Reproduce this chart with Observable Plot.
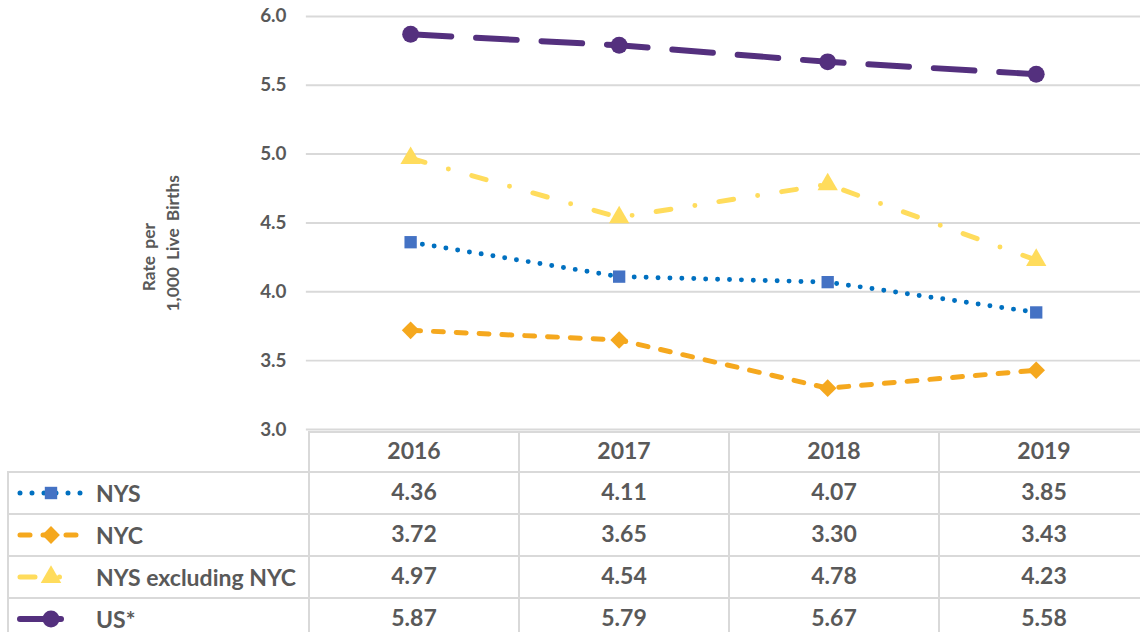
<!DOCTYPE html>
<html>
<head>
<meta charset="utf-8">
<script src="https://cdn.jsdelivr.net/npm/d3@7"></script>
<script src="https://cdn.jsdelivr.net/npm/@observablehq/plot@0.6"></script>
<style>
  html, body { margin: 0; padding: 0; background: #fff; width: 1140px; height: 632px; overflow: hidden; }
  #wrap { position: relative; width: 1140px; height: 632px; font-family: Lato, "Open Sans", sans-serif; color: #595959; }
  #chart { position: absolute; left: 0; top: 0; }
  #tbl { position: absolute; left: 7px; top: 431px; border-collapse: collapse; table-layout: fixed; width: 1142px; background: transparent; }
  #tbl td { border: 2px solid #d9d9d9; padding: 0; text-align: center; font-weight: 700; font-size: 23px; color: #595959; }
  #tbl td > * { position: relative; top: -2px; }
  #tbl tr.head td { height: 38px; }
  #tbl tr.row td { height: 40px; }
  #tbl td.blank { border-top: none; border-left: none; }
  #tbl td.lab { text-align: left; white-space: nowrap; }
  #tbl td.lab svg { vertical-align: middle; margin-left: 8px; margin-right: 11px; }
  #tbl td.lab span { vertical-align: middle; }
</style>
</head>
<body>
<div id="wrap">
  <div id="chart"></div>
  <table id="tbl"></table>
</div>
<script>
// ---- data ----
const years = [2016, 2017, 2018, 2019];
const seriesNames = ["NYS", "NYC", "NYS excluding NYC", "US*"];
const nysValues = [4.36, 4.11, 4.07, 3.85];
const nycValues = [3.72, 3.65, 3.30, 3.43];
const nysExclValues = [4.97, 4.54, 4.78, 4.23];
const usValues = [5.87, 5.79, 5.67, 5.58];
const yTicks = [3.0, 3.5, 4.0, 4.5, 5.0, 5.5, 6.0];
const yLabelLines = ["Rate per", "1,000 Live Births"];

// ---- styles ----
const seriesStyles = [
  {line: "#0070c0", fill: "#4472c4", width: 5, dash: "0 12", symbol: "square", r: 7},
  {line: "#f5a81e", fill: "#f5a81e", width: 5, dash: "10 13", symbol: "diamond2", r: 8},
  {line: "#ffdc5c", fill: "#ffdc5c", width: 5, dash: "15 24.5 0 24.5", symbol: "triangle", r: 7.6},
  {line: "#54307e", fill: "#54307e", width: 6, dash: "41 25", symbol: "circle", r: 8.5}
];
const allValues = [nysValues, nycValues, nysExclValues, usValues];

const records = [];
seriesNames.forEach((s, i) => years.forEach((yr, j) => records.push({series: s, idx: i, year: yr, value: allValues[i][j]})));

const lineMarks = [];
const dotMarks = [];
seriesNames.forEach((s, i) => {
  const st = seriesStyles[i];
  const d = records.filter(r => r.idx === i);
  lineMarks.push(Plot.line(d, {x: "year", y: "value", stroke: st.line, strokeWidth: st.width,
    strokeDasharray: st.dash, strokeLinecap: "round", strokeLinejoin: "round"}));
  dotMarks.push(Plot.dot(d, {x: "year", y: "value", symbol: st.symbol, r: st.r, fill: st.fill, stroke: "none"}));
});

const chart = Plot.plot({
  width: 1148,
  height: 445,
  marginLeft: 308,
  marginRight: 0,
  marginTop: 16,
  marginBottom: 13,
  style: {fontFamily: "Lato, 'Open Sans', sans-serif", fontSize: "19px", fontWeight: "700", color: "#595959", background: "transparent"},
  x: {domain: [years[0] - 0.5, years[years.length - 1] + 0.5], axis: null},
  y: {domain: [yTicks[0], yTicks[yTicks.length - 1]], axis: null},
  marks: [
    Plot.ruleY(yTicks, {stroke: "#d9d9d9", strokeWidth: 2}),
    Plot.axisY({ticks: yTicks, tickSize: 0, tickPadding: 20, tickFormat: d3.format(".1f"), fill: "#595959", label: null}),
    ...lineMarks,
    ...dotMarks
  ]
});
document.getElementById("chart").appendChild(chart);

// y-axis title
const svg = d3.select(chart);
const labelPos = [{x: 150, y: 259}, {x: 174, y: 245}];
yLabelLines.forEach((t, i) => {
  svg.append("text")
    .attr("transform", `translate(${labelPos[i].x},${labelPos[i].y}) rotate(-90)`)
    .attr("text-anchor", "middle")
    .attr("dominant-baseline", "central")
    .attr("fill", "#595959")
    .style("font-size", "17.5px")
    .style("font-weight", "700")
    .style("word-spacing", "3px")
    .text(t);
});

// data table
const tbl = d3.select("#tbl");
const cg = tbl.append("colgroup");
cg.append("col").style("width", "301px");
years.forEach(() => cg.append("col").style("width", "210px"));
const head = tbl.append("tr").attr("class", "head");
head.append("td").attr("class", "blank");
years.forEach(y => head.append("td").append("span").text(y));
seriesNames.forEach((s, i) => {
  const st = seriesStyles[i];
  const tr = tbl.append("tr").attr("class", "row");
  const lab = tr.append("td").attr("class", "lab");
  const sw = lab.append("svg").attr("width", 68).attr("height", 24);
  sw.append("line").attr("x1", 3).attr("x2", 66).attr("y1", 12).attr("y2", 12)
    .attr("stroke", st.line).attr("stroke-width", st.width).attr("stroke-dasharray", st.dash)
    .attr("stroke-linecap", "round");
  const symMap = {square: d3.symbolSquare, diamond2: d3.symbolDiamond2, triangle: d3.symbolTriangle, circle: d3.symbolCircle};
  sw.append("path").attr("transform", "translate(34,12)")
    .attr("d", d3.symbol(symMap[st.symbol], Math.PI * st.r * st.r)())
    .attr("fill", st.fill);
  lab.append("span").text(s);
  allValues[i].forEach(v => tr.append("td").append("span").text(d3.format(".2f")(v)));
});
</script>
</body>
</html>
